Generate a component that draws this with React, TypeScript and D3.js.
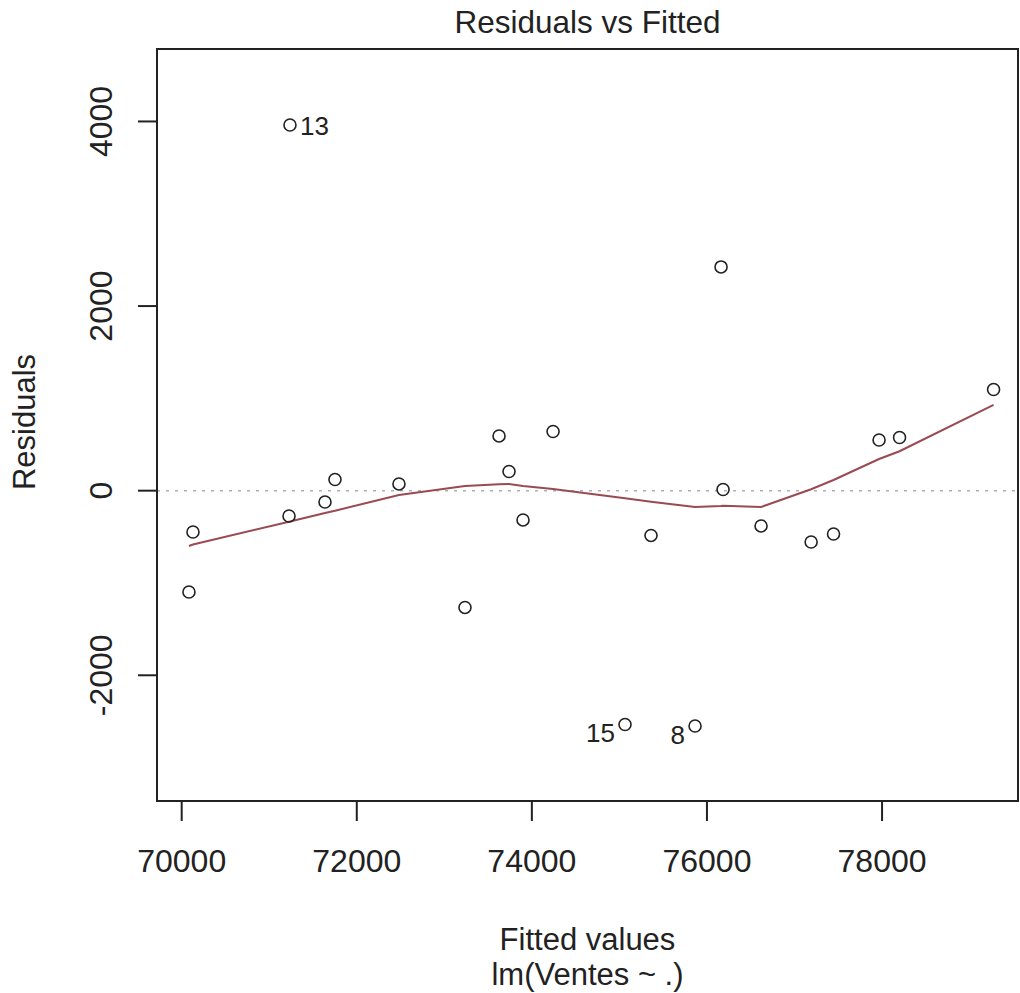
import React from 'react'
import * as d3 from 'd3'

// fitted values and residuals, sorted by fitted value
const fitted = [
  70083, 70129, 71226, 71237, 71637, 71751, 72482, 73236, 73625, 73739, 73899, 74242,
  75064, 75361, 75864, 76161, 76184, 76618, 77190, 77446, 77966, 78200, 79274,
]
const residuals = [
  -1098, -448, -274, 3962, -123, 121, 73, -1265, 593, 208, -317, 641,
  -2533, -485, -2549, 2424, 13, -382, -556, -469, 549, 576, 1096,
]
// lowess smooth evaluated at each fitted value
const smooth = [
  -599, -584, -336, -335, -242, -217, -47, 51, 69, 73, 51, 18,
  -82, -119, -177, -166, -163, -177, 15, 116, 343, 427, 929,
]
// labelled observations: index into the arrays above, observation number
const labelIdx = [3, 12, 14]
const labelText = ['13', '15', '8']

const xTicks = [70000, 72000, 74000, 76000, 78000]
const yTicks = [-2000, 0, 2000, 4000]

const width = 1020
const height = 993
const box = { left: 157, right: 1018, top: 49, bottom: 801 }
const font = '"Liberation Sans", Arial, sans-serif'
const ink = '#222'

const App: React.FC = () => {
  const x = d3.scaleLinear().domain([69718, 79553]).range([box.left, box.right])
  const y = d3.scaleLinear().domain([-3362, 4785]).range([box.bottom, box.top])

  const line = d3
    .line<number>()
    .x((d, i) => x(fitted[i]))
    .y((d) => y(d))

  const midX = (box.left + box.right) / 2

  return (
    <svg
      width={width}
      height={height}
      style={{ position: 'absolute', left: 0, top: 0, background: '#fff' }}
      fontFamily={font}
    >
      <rect x={0} y={0} width={width} height={height} fill="#fff" />

      {/* zero reference line */}
      <line
        x1={box.left}
        x2={box.right}
        y1={y(0)}
        y2={y(0)}
        stroke="#b0b0b0"
        strokeWidth={1.5}
        strokeDasharray="3,6"
      />

      {/* smoother */}
      <path d={line(smooth) || ''} fill="none" stroke="#9a4a52" strokeWidth={2} />

      {/* points */}
      {fitted.map((f, i) => (
        <circle key={i} cx={x(f)} cy={y(residuals[i])} r={6} fill="none" stroke={ink} strokeWidth={1.6} />
      ))}

      {/* labels of extreme residuals */}
      {labelIdx.map((idx, k) => {
        const right = fitted[idx] < d3.mean(fitted)!
        return (
          <text
            key={k}
            x={x(fitted[idx]) + (right ? 10 : -10)}
            y={y(residuals[idx]) + (right ? 10 : 18)}
            textAnchor={right ? 'start' : 'end'}
            fontSize={26}
            fill={ink}
          >
            {labelText[k]}
          </text>
        )
      })}

      {/* box */}
      <rect
        x={box.left}
        y={box.top}
        width={box.right - box.left}
        height={box.bottom - box.top}
        fill="none"
        stroke={ink}
        strokeWidth={2}
      />

      {/* x axis */}
      {xTicks.map((t) => (
        <g key={t}>
          <line x1={x(t)} x2={x(t)} y1={box.bottom} y2={box.bottom + 20} stroke={ink} strokeWidth={2} />
          <text x={x(t)} y={872} textAnchor="middle" fontSize={32} fill={ink}>
            {t}
          </text>
        </g>
      ))}

      {/* y axis */}
      {yTicks.map((t) => (
        <g key={t}>
          <line x1={box.left - 19} x2={box.left} y1={y(t)} y2={y(t)} stroke={ink} strokeWidth={2} />
          <text
            transform={`translate(112, ${y(t)}) rotate(-90)`}
            textAnchor="middle"
            fontSize={32}
            fill={ink}
          >
            {t}
          </text>
        </g>
      ))}

      <text x={midX} y={33} textAnchor="middle" fontSize={31.5} fill={ink}>
        Residuals vs Fitted
      </text>
      <text transform="translate(35, 422) rotate(-90)" textAnchor="middle" fontSize={31} fill={ink}>
        Residuals
      </text>
      <text x={midX} y={950} textAnchor="middle" fontSize={31} fill={ink}>
        Fitted values
      </text>
      <text x={midX} y={985} textAnchor="middle" fontSize={31} fill={ink}>
        lm(Ventes ~ .)
      </text>
    </svg>
  )
}

export default App
